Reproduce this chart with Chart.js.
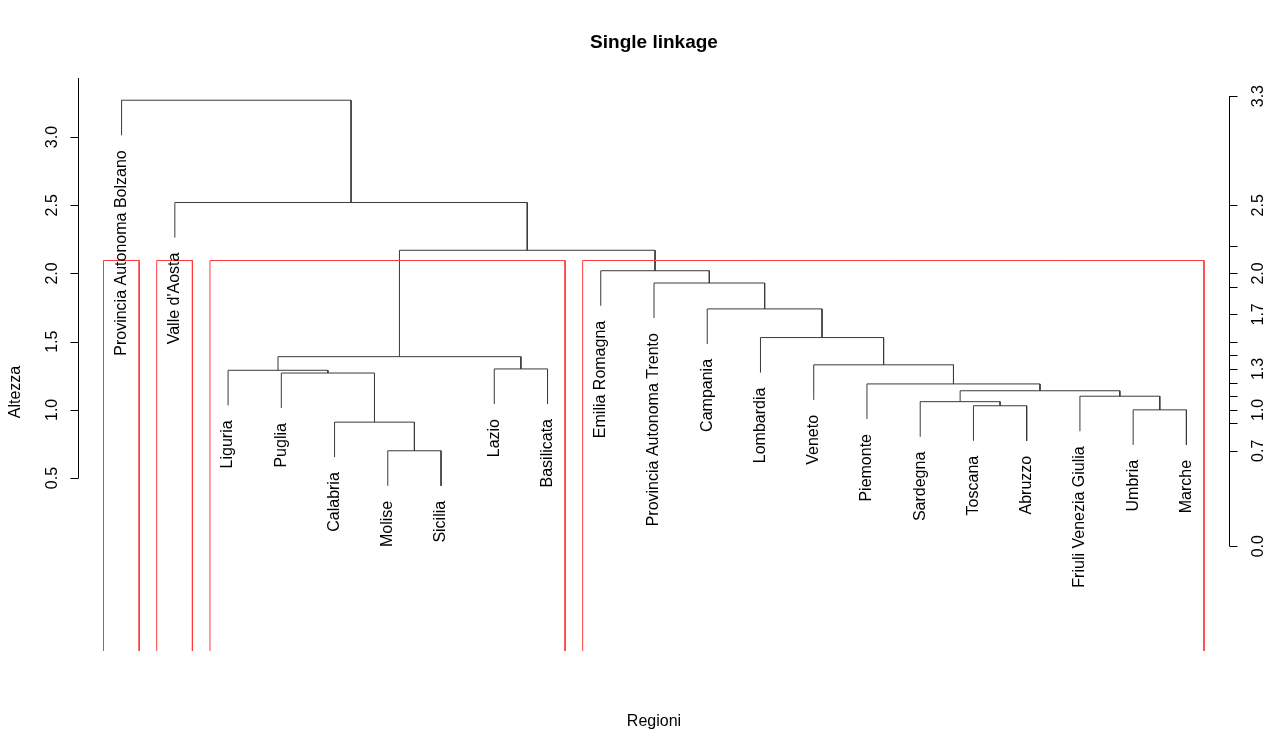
<!DOCTYPE html>
<html><head><meta charset="utf-8">
<script src="https://cdn.jsdelivr.net/npm/chart.js@4"></script>
<style>html,body{margin:0;padding:0;background:#fff}canvas{display:block}</style>
</head><body>
<canvas id="c" width="1270" height="750"></canvas>
<script>
// ---- data ----
const leafLabels = ["Provincia Autonoma Bolzano","Valle d'Aosta","Liguria","Puglia","Calabria","Molise","Sicilia","Lazio","Basilicata","Emilia Romagna","Provincia Autonoma Trento","Campania","Lombardia","Veneto","Piemonte","Sardegna","Toscana","Abruzzo","Friuli Venezia Giulia","Umbria","Marche"];
// merges (hclust style): negative = leaf position in plotting order, positive = earlier merge number
const mergeLeft   = [-6, -5, -20, -17, -16, -19, 5, -15, -4, -3, -8, -14, 10, -13, -12, -11, -10, 13, -2, -1];
const mergeRight  = [-7,  1, -21, -18,   4,   3, 6,   7,  2,  9, -9,   8, 11,  12,  14,  15,  16, 17, 18, 19];
const mergeHeight = [0.70, 0.91, 1.00, 1.03, 1.06, 1.10, 1.14, 1.19, 1.27, 1.29, 1.30, 1.33, 1.39, 1.53, 1.74, 1.93, 2.02, 2.17, 2.52, 3.27];
const nGroups = 4; // rect.hclust k
const leftTicks = [0.5, 1.0, 1.5, 2.0, 2.5, 3.0];
const leftTickLabels = ["0.5", "1.0", "1.5", "2.0", "2.5", "3.0"];
const leftAxisSpan = [0.5, 3.5];
const rightTicks = [0.0, 0.7, 0.9, 1.0, 1.1, 1.2, 1.3, 1.4, 1.5, 1.7, 1.9, 2.0, 2.2, 2.5, 3.3];
const rightTickLabels = ["0.0", "0.7", "", "1.0", "", "", "1.3", "", "", "1.7", "", "2.0", "", "2.5", "3.3"];
const titleText = "Single linkage";
const xTitle = "Regioni";
const yTitle = "Altezza";

// ---- derived geometry (data coordinates) ----
const nLeaves = leafLabels.length;
const hang = 0.1 * (Math.max(...mergeHeight) - Math.min(...mergeHeight));
const mid = [], span = [];
function childInfo(c){ return c < 0 ? {x: -c, lo: -c, hi: -c, h: null} : {x: mid[c-1], lo: span[c-1][0], hi: span[c-1][1], h: mergeHeight[c-1]}; }
const leafEnd = new Array(nLeaves + 1);
const linkDatasets = [];
for (let i = 0; i < mergeHeight.length; i++) {
  const H = mergeHeight[i];
  const L = childInfo(mergeLeft[i]), R = childInfo(mergeRight[i]);
  const yl = L.h === null ? H - hang : L.h;
  const yr = R.h === null ? H - hang : R.h;
  if (mergeLeft[i] < 0) leafEnd[-mergeLeft[i]] = yl;
  if (mergeRight[i] < 0) leafEnd[-mergeRight[i]] = yr;
  mid.push((L.x + R.x) / 2);
  span.push([Math.min(L.lo, R.lo), Math.max(L.hi, R.hi)]);
  linkDatasets.push({
    data: [{x: L.x, y: yl}, {x: L.x, y: H}, {x: R.x, y: H}, {x: R.x, y: yr}],
    borderColor: '#3a3a3a', borderWidth: 1, pointRadius: 0, showLine: true, fill: false, tension: 0, clip: false
  });
}
// clusters for k groups
const nM = mergeHeight.length;
const topMerges = [];
for (let k = 0; k < nGroups - 1; k++) topMerges.push(nM - k);
const groups = [];
topMerges.forEach(m => {
  [mergeLeft[m-1], mergeRight[m-1]].forEach(c => {
    if (c < 0 || !topMerges.includes(c)) { const ci = childInfo(c); groups.push([ci.lo, ci.hi]); }
  });
});
groups.sort((a, b) => a[0] - b[0]);
const rectTop = (mergeHeight[nM - nGroups + 1] + mergeHeight[nM - nGroups]) / 2;

const yMin = -0.768, yMax = 3.433;
const rectDatasets = groups.map(g => ({
  data: [{x: g[0] - 0.34, y: yMin}, {x: g[0] - 0.34, y: rectTop}, {x: g[1] + 0.33, y: rectTop}, {x: g[1] + 0.33, y: yMin}],
  borderColor: '#ff3a3a', borderWidth: 1, pointRadius: 0, showLine: true, fill: false, tension: 0, clip: false
}));

const FONT = "'Liberation Sans', Arial, Helvetica, sans-serif";

const deco = {
  id: 'deco',
  afterDraw(chart) {
    const {ctx, chartArea: ca} = chart;
    const xs = chart.scales.x, ys = chart.scales.y;
    ctx.save();
    ctx.strokeStyle = '#000'; ctx.fillStyle = '#000'; ctx.lineWidth = 1;
    // left axis
    const lx = ca.left - 0.5;
    const lTop = Math.max(ys.getPixelForValue(leftAxisSpan[1]), ca.top);
    ctx.beginPath();
    ctx.moveTo(lx, ys.getPixelForValue(leftAxisSpan[0]));
    ctx.lineTo(lx, lTop);
    leftTicks.forEach(v => { const py = Math.round(ys.getPixelForValue(v)) + 0.5; ctx.moveTo(lx, py); ctx.lineTo(lx - 8, py); });
    ctx.stroke();
    ctx.font = '16px ' + FONT;
    ctx.textAlign = 'center'; ctx.textBaseline = 'alphabetic';
    leftTicks.forEach((v, i) => {
      ctx.save(); ctx.translate(57, ys.getPixelForValue(v)); ctx.rotate(-Math.PI / 2);
      ctx.fillText(leftTickLabels[i], 0, 0); ctx.restore();
    });
    // right axis
    const rx = ca.right + 0.5;
    ctx.beginPath();
    ctx.moveTo(rx, ys.getPixelForValue(rightTicks[0]));
    ctx.lineTo(rx, ys.getPixelForValue(rightTicks[rightTicks.length - 1]));
    rightTicks.forEach(v => { const py = Math.round(ys.getPixelForValue(v)) + 0.5; ctx.moveTo(rx, py); ctx.lineTo(rx + 8, py); });
    ctx.stroke();
    rightTicks.forEach((v, i) => {
      if (!rightTickLabels[i]) return;
      ctx.save(); ctx.translate(1263, ys.getPixelForValue(v)); ctx.rotate(-Math.PI / 2);
      ctx.fillText(rightTickLabels[i], 0, 0); ctx.restore();
    });
    // leaf labels
    ctx.textAlign = 'right'; ctx.textBaseline = 'middle';
    for (let i = 1; i <= nLeaves; i++) {
      ctx.save();
      ctx.translate(xs.getPixelForValue(i), ys.getPixelForValue(leafEnd[i]) + 15);
      ctx.rotate(-Math.PI / 2);
      ctx.fillText(leafLabels[i - 1], 0, 0);
      ctx.restore();
    }
    // y title
    ctx.textAlign = 'center'; ctx.textBaseline = 'alphabetic';
    ctx.save(); ctx.translate(20, 392); ctx.rotate(-Math.PI / 2);
    ctx.fillText(yTitle, 0, 0); ctx.restore();
    // x title
    ctx.fillText(xTitle, (ca.left + ca.right) / 2, 726);
    // main title
    ctx.font = 'bold 19px ' + FONT;
    ctx.fillText(titleText, (ca.left + ca.right) / 2, 48);
    ctx.restore();
  }
};

new Chart(document.getElementById('c'), {
  type: 'scatter',
  data: {datasets: [...rectDatasets, ...linkDatasets]},
  options: {
    responsive: false, animation: false, events: [],
    layout: {padding: {left: 79, right: 41, top: 78, bottom: 99}},
    plugins: {legend: {display: false}, tooltip: {enabled: false}, title: {display: false}},
    scales: {
      x: {type: 'linear', min: 0.2, max: 21.8, display: false},
      y: {type: 'linear', min: yMin, max: yMax, display: false}
    }
  },
  plugins: [deco]
});
</script>
</body></html>
